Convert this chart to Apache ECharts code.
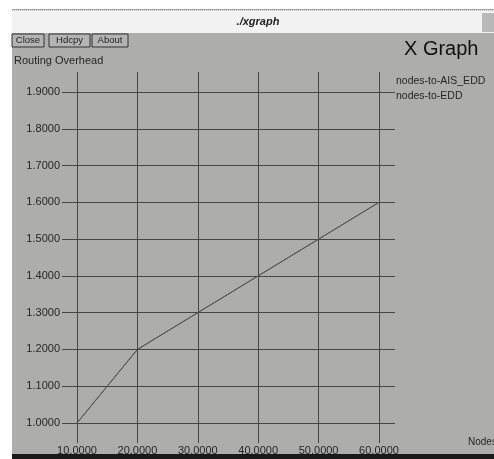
<!DOCTYPE html>
<html>
<head>
<meta charset="utf-8">
<script src="https://cdn.jsdelivr.net/npm/echarts@6/dist/echarts.min.js"></script>
<style>
html,body{margin:0;padding:0;background:#fff;}
#c{width:494px;height:459px;}
</style>
</head>
<body>
<div id="c"></div>
<script>
// ---- data ----
var xValues = [10, 20, 30, 40, 50, 60];
var nodesToAisEdd = [1.0, 1.2, 1.3, 1.4, 1.5, 1.6];
var nodesToEdd = [1.0, 1.2, 1.3, 1.4, 1.5, 1.6];
var seriesNames = ['nodes-to-AIS_EDD', 'nodes-to-EDD'];
var yTickMin = 1.0, yTickMax = 1.9, yTickStep = 0.1;
var xTickMin = 10, xTickMax = 60, xTickStep = 10;
var windowTitle = './xgraph';
var graphTitle = 'X Graph';
var yAxisTitle = 'Routing Overhead';
var xAxisTitle = 'Nodes';
var buttons = ['Close', 'Hdcpy', 'About'];

function pairs(xs, ys) { return xs.map(function (x, i) { return [x, ys[i]]; }); }

var gridColor = '#454545';
var labelColor = '#262626';
var fontFam = 'Liberation Sans, Arial, sans-serif';

var chart = echarts.init(document.getElementById('c'), null, { renderer: 'canvas' });

var btnBoxes = [[12, 32], [49, 41], [92, 36]];
var graphics = [
  // window body
  { type: 'rect', shape: { x: 12, y: 9, width: 482, height: 446 }, style: { fill: '#adadac' }, z: -10 },
  // title bar
  { type: 'rect', shape: { x: 12, y: 10, width: 482, height: 23 }, style: { fill: '#f2f2f2' }, z: -9 },
  { type: 'line', shape: { x1: 12, y1: 10, x2: 494, y2: 10 }, style: { stroke: '#8a8a8a', lineWidth: 1, lineDash: [1, 1] }, z: -8 },
  { type: 'rect', shape: { x: 482, y: 13, width: 12, height: 19 }, style: { fill: '#b9b9b9' }, z: -8 },
  { type: 'text', x: 258, y: 22, style: { text: windowTitle, font: 'italic bold 11px ' + fontFam, fill: '#222', align: 'center', verticalAlign: 'middle' } },
  // bottom black bar
  { type: 'rect', shape: { x: 12, y: 454, width: 482, height: 5 }, style: { fill: '#1a1a1a' }, z: -8 },
  // header texts
  { type: 'text', x: 14, y: 61, style: { text: yAxisTitle, font: '11px ' + fontFam, fill: labelColor, verticalAlign: 'middle' } },
  { type: 'text', x: 404, y: 49, style: { text: graphTitle, font: '20px ' + fontFam, fill: '#111', verticalAlign: 'middle' } },
  { type: 'text', x: 396, y: 81, style: { text: seriesNames[0], font: '10.5px ' + fontFam, fill: labelColor, verticalAlign: 'middle' } },
  { type: 'text', x: 396, y: 96, style: { text: seriesNames[1], font: '10.5px ' + fontFam, fill: labelColor, verticalAlign: 'middle' } },
  { type: 'text', x: 468, y: 442, style: { text: xAxisTitle, font: '10px ' + fontFam, fill: labelColor, verticalAlign: 'middle' } }
];
buttons.forEach(function (b, i) {
  var bx = btnBoxes[i];
  graphics.push({ type: 'rect', shape: { x: bx[0], y: 34, width: bx[1], height: 13 }, style: { fill: '#b4b4b4', stroke: '#333', lineWidth: 1 } });
  graphics.push({ type: 'text', x: bx[0] + bx[1] / 2, y: 40.5, style: { text: b, font: '9.5px ' + fontFam, fill: '#222', align: 'center', verticalAlign: 'middle' } });
});

var fmt = function (v) { return Number(v).toFixed(4); };

chart.setOption({
  animation: false,
  backgroundColor: '#ffffff',
  graphic: graphics,
  grid: [
    { left: 62, right: 99, top: 92, bottom: 36 },   // horizontal lines + y labels
    { left: 77, right: 115, top: 72, bottom: 16 },  // vertical lines + x labels
    { left: 77, right: 115, top: 92, bottom: 36 }   // data
  ],
  xAxis: [
    { gridIndex: 0, type: 'value', show: false, min: 0, max: 1 },
    { gridIndex: 1, type: 'value', min: xTickMin, max: xTickMax, interval: xTickStep,
      axisLine: { show: false }, axisTick: { show: false },
      axisLabel: { formatter: fmt, margin: 2, fontSize: 11, color: labelColor, fontFamily: fontFam },
      splitLine: { show: true, lineStyle: { color: gridColor, width: 1 } } },
    { gridIndex: 2, type: 'value', show: false, min: xTickMin, max: xTickMax }
  ],
  yAxis: [
    { gridIndex: 0, type: 'value', min: yTickMin, max: yTickMax, interval: yTickStep,
      axisLine: { show: false }, axisTick: { show: false },
      axisLabel: { formatter: fmt, margin: 2, fontSize: 11, color: labelColor, fontFamily: fontFam },
      splitLine: { show: true, lineStyle: { color: gridColor, width: 1 } } },
    { gridIndex: 1, type: 'value', show: false, min: 0, max: 1 },
    { gridIndex: 2, type: 'value', show: false, min: yTickMin, max: yTickMax }
  ],
  series: [
    { name: seriesNames[0], type: 'line', xAxisIndex: 2, yAxisIndex: 2, data: pairs(xValues, nodesToAisEdd),
      symbol: 'none', lineStyle: { color: '#555', width: 1 }, silent: true },
    { name: seriesNames[1], type: 'line', xAxisIndex: 2, yAxisIndex: 2, data: pairs(xValues, nodesToEdd),
      symbol: 'none', lineStyle: { color: '#555', width: 1 }, silent: true }
  ]
});
</script>
</body>
</html>
